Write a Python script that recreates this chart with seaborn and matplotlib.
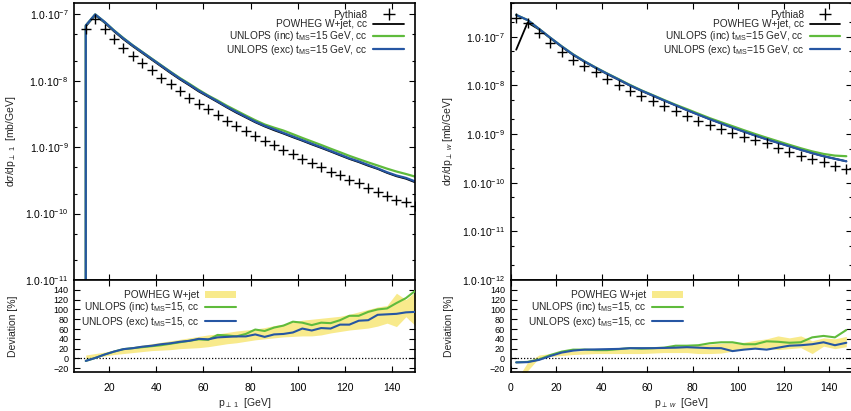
import numpy as np
import pandas as pd
import seaborn as sns
import matplotlib.pyplot as plt
from matplotlib.ticker import FixedLocator, FuncFormatter, LogLocator, NullFormatter
from matplotlib.lines import Line2D
from matplotlib.patches import Patch

##################
###Data (read)###
##################
# left: leading jet pT, 4 GeV bins
pt1 = np.arange(10, 151, 4)
pt1_pythia = [6.1e-8, 8.6e-8, 6.1e-8, 4.3e-8, 3.15e-8, 2.4e-8, 1.85e-8, 1.45e-8, 1.12e-8, 8.8e-9,
              7.0e-9, 5.6e-9, 4.5e-9, 3.7e-9, 3.05e-9, 2.5e-9, 2.1e-9, 1.75e-9, 1.47e-9, 1.25e-9,
              1.07e-9, 9.2e-10, 7.9e-10, 6.7e-10, 5.8e-10, 5.0e-10, 4.3e-10, 3.75e-10, 3.25e-10, 2.85e-10,
              2.45e-10, 2.15e-10, 1.85e-10, 1.62e-10, 1.48e-10, 1.3e-10]
pt1_powheg = [6.6e-8, 9.7e-8, 7.5e-8, 5.55e-8, 4.22e-8, 3.3e-8, 2.62e-8, 2.08e-8, 1.65e-8, 1.31e-8,
              1.05e-8, 8.55e-9, 6.9e-9, 5.75e-9, 4.78e-9, 3.95e-9, 3.3e-9, 2.8e-9, 2.37e-9, 2.05e-9,
              1.8e-9, 1.6e-9, 1.41e-9, 1.25e-9, 1.1e-9, 9.75e-10, 8.6e-10, 7.55e-10, 6.65e-10, 5.95e-10,
              5.25e-10, 4.7e-10, 4.1e-10, 3.65e-10, 3.35e-10, 2.95e-10]
pt1_inc = [6.8e-8, 1.0e-7, 7.7e-8, 5.75e-8, 4.4e-8, 3.42e-8, 2.72e-8, 2.16e-8, 1.72e-8, 1.37e-8,
           1.1e-8, 9.0e-9, 7.3e-9, 6.0e-9, 5.05e-9, 4.2e-9, 3.55e-9, 3.0e-9, 2.55e-9, 2.2e-9,
           1.97e-9, 1.78e-9, 1.57e-9, 1.38e-9, 1.22e-9, 1.08e-9, 9.5e-10, 8.4e-10, 7.4e-10, 6.6e-10,
           5.9e-10, 5.3e-10, 4.75e-10, 4.3e-10, 3.95e-10, 3.6e-10]
pt1_exc = [6.8e-8, 1.0e-7, 7.7e-8, 5.7e-8, 4.35e-8, 3.4e-8, 2.7e-8, 2.14e-8, 1.7e-8, 1.35e-8,
           1.08e-8, 8.8e-9, 7.1e-9, 5.9e-9, 4.9e-9, 4.05e-9, 3.4e-9, 2.87e-9, 2.43e-9, 2.1e-9,
           1.86e-9, 1.64e-9, 1.45e-9, 1.28e-9, 1.13e-9, 1.0e-9, 8.8e-10, 7.75e-10, 6.8e-10, 6.1e-10,
           5.4e-10, 4.8e-10, 4.2e-10, 3.75e-10, 3.45e-10, 3.05e-10]
pt1_dev_inc = [-5, 1, 8, 14, 19, 21, 23, 25, 27, 30, 33, 36, 39, 38, 48, 47, 45, 50, 59, 56,
               63, 67, 75, 73, 68, 73, 72, 78, 87, 87, 95, 100, 102, 113, 123, 138]
pt1_dev_exc = [-5, 1, 8, 14, 19, 21, 24, 26, 29, 31, 34, 36, 40, 39, 43, 44, 45, 45, 49, 44,
               49, 50, 53, 61, 57, 62, 61, 69, 69, 77, 78, 89, 90, 91, 94, 95]
pt1_band_lo = [-1, 2, 5, 8, 10, 12, 14, 16, 17, 18, 20, 21, 22, 24, 27, 30, 32, 35, 38, 40,
               42, 44, 45, 46, 46, 48, 52, 55, 58, 60, 62, 66, 72, 65, 85, 67]
pt1_band_hi = [7, 10, 13, 17, 21, 24, 27, 30, 33, 36, 39, 42, 45, 48, 50, 53, 56, 58, 60, 63,
               67, 70, 74, 78, 80, 82, 84, 86, 90, 95, 100, 105, 108, 133, 120, 136]

# right: W pT, 5 GeV bins
ptw = np.arange(2.5, 150, 5)
ptw_pythia = [2.4e-7, 1.95e-7, 1.17e-7, 7.3e-8, 4.9e-8, 3.35e-8, 2.45e-8, 1.84e-8, 1.34e-8, 1.03e-8,
              7.7e-9, 6.0e-9, 4.85e-9, 3.85e-9, 3.0e-9, 2.35e-9, 1.83e-9, 1.56e-9, 1.28e-9, 1.06e-9,
              8.8e-10, 7.5e-10, 6.4e-10, 5.2e-10, 4.3e-10, 3.5e-10, 3.0e-10, 2.6e-10, 2.2e-10, 1.94e-10]
ptw_powheg = [5.4e-8, 1.95e-7, 1.42e-7, 9.3e-8, 6.2e-8, 4.22e-8, 3.05e-8, 2.26e-8, 1.7e-8, 1.3e-8,
              9.85e-9, 7.7e-9, 6.1e-9, 4.85e-9, 3.88e-9, 3.1e-9, 2.5e-9, 2.02e-9, 1.66e-9, 1.36e-9,
              1.12e-9, 9.3e-10, 7.8e-10, 6.6e-10, 5.6e-10, 4.75e-10, 4.05e-10, 3.5e-10, 3.1e-10, 2.75e-10]
ptw_inc = [2.8e-7, 2.2e-7, 1.45e-7, 9.5e-8, 6.35e-8, 4.35e-8, 3.12e-8, 2.32e-8, 1.75e-8, 1.34e-8,
           1.02e-8, 7.9e-9, 6.3e-9, 5.0e-9, 4.0e-9, 3.25e-9, 2.62e-9, 2.12e-9, 1.75e-9, 1.45e-9,
           1.2e-9, 1.0e-9, 8.4e-10, 7.1e-10, 6.0e-10, 5.1e-10, 4.4e-10, 3.9e-10, 3.6e-10, 3.5e-10]
ptw_exc = [2.8e-7, 2.2e-7, 1.45e-7, 9.5e-8, 6.3e-8, 4.3e-8, 3.1e-8, 2.3e-8, 1.73e-8, 1.32e-8,
           1.0e-8, 7.8e-9, 6.2e-9, 4.9e-9, 3.9e-9, 3.1e-9, 2.5e-9, 2.02e-9, 1.65e-9, 1.35e-9,
           1.12e-9, 9.3e-10, 7.8e-10, 6.6e-10, 5.6e-10, 4.75e-10, 4.05e-10, 3.5e-10, 3.1e-10, 2.75e-10]
ptw_dev_inc = [-8, -7, -2, 7, 14, 18, 18, 17, 17, 19, 21, 20, 21, 22, 26, 26, 27, 31, 33, 33,
               29, 29, 35, 34, 32, 33, 43, 46, 43, 58]
ptw_dev_exc = [-8, -7.5, -3, 5, 12, 16, 18, 18.5, 19, 19.5, 21, 21, 21, 21.5, 22, 23, 22, 21, 21, 15,
               18, 20, 18, 22, 26, 27, 29, 33, 27, 32]
ptw_band_lo = [-70, -25, 1, 4, 6, 8, 9, 10, 10, 10, 10, 10, 11, 12, 12, 12, 10, 10, 11, 15,
               18, 22, 21, 18, 20, 22, 10, 25, 20, 24]
ptw_band_hi = [-45, -8, 7, 10, 13, 15, 16, 17, 18, 19, 19, 20, 21, 22, 23, 25, 27, 29, 31, 32,
               33, 37, 40, 46, 42, 46, 36, 42, 40, 45]

GREEN = "#5fbb3c"
BLUE = "#2656a3"
YELLOW = "#f8ea8c"

###########
###Style###
###########
sns.set_style("ticks")
plt.rcParams['font.family'] = ['Liberation Sans', 'DejaVu Sans']
plt.rcParams['mathtext.fontset'] = 'custom'
plt.rcParams['mathtext.rm'] = 'Liberation Sans'
plt.rcParams['mathtext.it'] = 'Liberation Sans:italic'
plt.rcParams['mathtext.bf'] = 'Liberation Sans:bold'

fig = plt.figure(figsize=(8.51, 4.11), dpi=100)

def logfmt(v, pos):
    return r"1.0$\cdot$10$^{%d}$" % int(round(np.log10(v)))

def style(ax, size=7.5):
    ax.tick_params(which='both', direction='in', top=True, right=True, labelsize=size,
                   width=0.8, pad=4, colors='black')
    ax.tick_params(which='major', length=4)
    ax.tick_params(which='minor', length=2.5)
    for s in ax.spines.values():
        s.set_linewidth(1.2)
        s.set_color('black')

def draw(x0, x1, x, pythia, powheg, inc, exc, dev_inc, dev_exc, lo, hi,
         xlim, xticks, ylim, ylab, xlab, first_zero, rleg_x):
    W, H = 851, 411
    ax = fig.add_axes([x0 / W, 1 - 280 / H, (x1 - x0) / W, (280 - 2.7) / H])
    rx = fig.add_axes([x0 / W, 1 - 371.7 / H, (x1 - x0) / W, (371.7 - 280) / H])

    # main panel
    lx = list(x)
    if first_zero:
        lx = [x[0]] + lx
    for vals, c, lw in [(powheg, 'black', 1.3), (inc, GREEN, 1.6), (exc, BLUE, 1.6)]:
        yv = list(vals)
        if first_zero:
            yv = [1e-14] + yv
        df = pd.DataFrame({"x": lx, "y": yv})
        sns.lineplot(data=df, x="x", y="y", ax=ax, color=c, lw=lw,
                     estimator=None, sort=False, legend=False)
    sns.scatterplot(x=x, y=pythia, ax=ax, marker='+', color='black', s=55,
                    linewidth=1.0, zorder=5, legend=False)
    ax.set_yscale('log')
    ax.set_xlim(*xlim)
    ax.set_ylim(*ylim)
    ax.yaxis.set_major_locator(LogLocator(base=10, numticks=20))
    ax.yaxis.set_minor_locator(LogLocator(base=10, subs=(2, 5), numticks=20))
    ax.yaxis.set_major_formatter(FuncFormatter(logfmt))
    ax.yaxis.set_minor_formatter(NullFormatter())
    ax.xaxis.set_major_locator(FixedLocator(xticks))
    ax.set_xticklabels([])
    ax.set_xlabel("")
    ax.set_ylabel(ylab, fontsize=7.5)
    ax.yaxis.set_label_coords(-0.163, 0.5)
    style(ax)
    h = [Line2D([], [], color='black', marker='+', ls='none', ms=8, mew=1.0),
         Line2D([], [], color='black', lw=1.3),
         Line2D([], [], color=GREEN, lw=1.6),
         Line2D([], [], color=BLUE, lw=1.6)]
    labels = ["Pythia8", "POWHEG W+jet, cc",
              r"UNLOPS (inc) t$_{\rm MS}$=15 GeV, cc",
              r"UNLOPS (exc) t$_{\rm MS}$=15 GeV, cc"]
    ax.legend(h, labels, loc='upper right', frameon=False, markerfirst=False,
              fontsize=7.3, handlelength=3.0, labelspacing=-0.03, handletextpad=0.6,
              borderaxespad=0.3, bbox_to_anchor=(0.987, 1.0))

    # ratio panel
    rx.fill_between(x, lo, hi, color=YELLOW, lw=0, zorder=1)
    sns.lineplot(x=x, y=dev_inc, ax=rx, color=GREEN, lw=1.5, estimator=None, sort=False, zorder=3)
    sns.lineplot(x=x, y=dev_exc, ax=rx, color=BLUE, lw=1.5, estimator=None, sort=False, zorder=4)
    rx.axhline(0, color='black', ls=(0, (1, 1.5)), lw=0.9, zorder=2)
    rx.set_xlim(*xlim)
    rx.set_ylim(-27, 160)
    rx.xaxis.set_major_locator(FixedLocator(xticks))
    rx.yaxis.set_major_locator(FixedLocator(range(-20, 141, 20)))
    rx.set_ylabel("Deviation [%]", fontsize=7.5)
    rx.yaxis.set_label_coords(-0.165, 0.5)
    rx.set_xlabel(xlab, fontsize=7.5)
    rx.xaxis.set_label_coords(0.5, -0.27)
    style(rx)
    rx.tick_params(axis='y', labelsize=6.5)
    rx.tick_params(axis='x', pad=8)
    rh = [Patch(facecolor=YELLOW, edgecolor='none'),
          Line2D([], [], color=GREEN, lw=1.5),
          Line2D([], [], color=BLUE, lw=1.5)]
    rl = ["POWHEG W+jet", r"UNLOPS (inc) t$_{\rm MS}$=15, cc", r"UNLOPS (exc) t$_{\rm MS}$=15, cc"]
    rx.legend(rh, rl, loc='upper left', frameon=False, markerfirst=False,
              fontsize=7.3, handlelength=3.0, labelspacing=0.05, handletextpad=0.6,
              borderaxespad=0.3, bbox_to_anchor=(rleg_x, 0.97))

draw(74, 415.3, pt1, pt1_pythia, pt1_powheg, pt1_inc, pt1_exc, pt1_dev_inc, pt1_dev_exc,
     pt1_band_lo, pt1_band_hi, (5, 150), list(range(20, 141, 20)), (1e-11, 1.5e-7),
     r"d$\sigma$/dp$_{\perp\ 1}$  [mb/GeV]", r"p$_{\perp\ 1}$  [GeV]", True, 0.0)
draw(510.5, 852, ptw, ptw_pythia, ptw_powheg, ptw_inc, ptw_exc, ptw_dev_inc, ptw_dev_exc,
     ptw_band_lo, ptw_band_hi, (0, 150), list(range(0, 141, 20)), (1e-12, 5e-7),
     r"d$\sigma$/dp$_{\perp\ w}$ [mb/GeV]", r"p$_{\perp\ w}$  [GeV]", False, 0.03)

plt.savefig("out.png", dpi=100)
